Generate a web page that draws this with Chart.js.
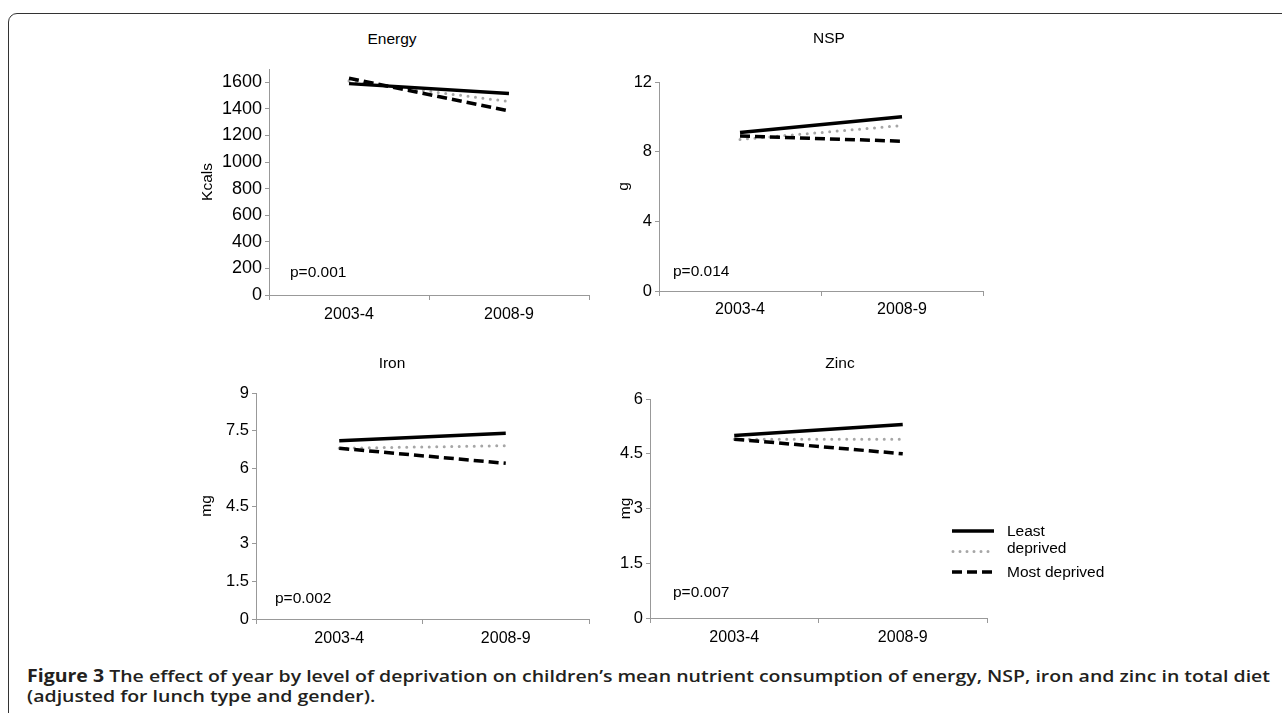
<!DOCTYPE html>
<html>
<head>
<meta charset="utf-8">
<script src="https://cdn.jsdelivr.net/npm/chart.js@4.4.0/dist/chart.umd.min.js"></script>
<style>
html,body{margin:0;padding:0;background:#fff;}
body{width:1282px;height:713px;overflow:hidden;position:relative;font-family:"Liberation Sans",Arial,sans-serif;color:#000;}
.frame{position:absolute;left:8px;top:13px;width:1320px;height:800px;border:1.6px solid #333;border-top-left-radius:9px;box-sizing:border-box;}
canvas{position:absolute;}
.t{position:absolute;font-size:15.5px;white-space:nowrap;transform:translate(-50%,-50%);line-height:1;}
.p{position:absolute;font-size:15.5px;white-space:nowrap;transform:translateY(-50%);line-height:1;}
.lg{position:absolute;font-size:15.5px;white-space:nowrap;transform:translateY(-50%);line-height:1;left:1007px;}
.cap{position:absolute;left:27px;top:666px;font-family:"Open Sans","Noto Sans",sans-serif;font-size:17px;line-height:19.5px;color:#231f20;font-weight:600;white-space:nowrap;transform-origin:0 0;}
.cap b{font-weight:700;}
</style>
</head>
<body>
<div class="frame"></div>

<canvas id="cEnergy" width="420" height="280" style="left:180px;top:50px;"></canvas>
<canvas id="cNSP" width="440" height="280" style="left:560px;top:50px;"></canvas>
<canvas id="cIron" width="430" height="320" style="left:170px;top:340px;"></canvas>
<canvas id="cZinc" width="440" height="320" style="left:560px;top:340px;"></canvas>

<div class="t" style="left:392px;top:39px;">Energy</div>
<div class="t" style="left:829px;top:38px;">NSP</div>
<div class="t" style="left:392px;top:363px;">Iron</div>
<div class="t" style="left:840px;top:363px;">Zinc</div>

<div class="p" style="left:290px;top:272px;">p=0.001</div>
<div class="p" style="left:673px;top:271px;">p=0.014</div>
<div class="p" style="left:275px;top:598px;">p=0.002</div>
<div class="p" style="left:673px;top:592px;">p=0.007</div>

<svg style="position:absolute;left:948px;top:520px;" width="52" height="64">
  <line x1="4" y1="11" x2="46" y2="11" stroke="#000" stroke-width="3.5"/>
  <line x1="5" y1="31.5" x2="46" y2="31.5" stroke="#a6a6a6" stroke-width="3" stroke-linecap="round" stroke-dasharray="0 7"/>
  <line x1="4" y1="52" x2="46" y2="52" stroke="#000" stroke-width="3.5" stroke-dasharray="10 5"/>
</svg>
<div class="lg" style="top:531px;">Least</div>
<div class="lg" style="top:548px;">deprived</div>
<div class="lg" style="top:572px;">Most deprived</div>

<div class="cap" id="cap"><span id="l1"><b>Figure 3</b> The effect of year by level of deprivation on children’s mean nutrient consumption of energy, NSP, iron and zinc in total diet</span><br><span id="l2">(adjusted for lunch type and gender).</span></div>

<script>
// ---- data ----
const categories = ['2003-4', '2008-9'];
const seriesNames = ['Least deprived', '', 'Most deprived'];

const energyLeast = [1590, 1515];
const energyMid   = [1610, 1455];
const energyMost  = [1630, 1385];
const energyTicks = [0, 200, 400, 600, 800, 1000, 1200, 1400, 1600];

const nspLeast = [9.1, 10.0];
const nspMid   = [8.7, 9.5];
const nspMost  = [8.9, 8.6];
const nspTicks = [0, 4, 8, 12];

const ironLeast = [7.1, 7.4];
const ironMid   = [6.8, 6.9];
const ironMost  = [6.8, 6.2];
const ironTicks = [0, 1.5, 3, 4.5, 6, 7.5, 9];

const zincLeast = [5.0, 5.3];
const zincMid   = [4.9, 4.9];
const zincMost  = [4.9, 4.5];
const zincTicks = [0, 1.5, 3, 4.5, 6];

// ---- styles ----
const FONT = '"Liberation Sans", Arial, sans-serif';
Chart.defaults.font.family = FONT;
const styles = [
  {borderColor:'#000', borderWidth:3.5, borderDash:[], order:1},
  {borderColor:'#a6a6a6', borderWidth:3, borderDash:[0, 7.5], borderCapStyle:'round', order:2},
  {borderColor:'#000', borderWidth:3.5, borderDash:[10, 5], order:0}
];

function makePanel(id, series, ticksArr, max, yTitle, box) {
  new Chart(document.getElementById(id), {
    type: 'line',
    data: {
      labels: categories,
      datasets: series.map((vals, i) => Object.assign({
        label: seriesNames[i], data: vals, pointRadius: 0, tension: 0, fill: false
      }, styles[i]))
    },
    options: {
      responsive: false, animation: false, events: [],
      layout: {padding: {top: box.padTop, right: box.padRight, left: 0, bottom: 0}},
      plugins: {legend: {display: false}, tooltip: {enabled: false}, title: {display: false}},
      scales: {
        x: {
          type: 'category', offset: true,
          grid: {offset: true, drawOnChartArea: false, drawTicks: true, tickLength: 5, color: '#999', lineWidth: 1},
          border: {color: '#999', width: 1},
          ticks: {color: '#000', font: {size: 16}, padding: box.xPad, maxRotation: 0, autoSkip: false},
          afterFit(s) { s.height = box.hx; }
        },
        y: {
          min: 0, max: max, bounds: 'data',
          afterBuildTicks(s) { s.ticks = ticksArr.map(v => ({value: v})); },
          ticks: {color: '#000', font: {size: box.yFont}, padding: 3, callback: v => String(v), autoSkip: false},
          grid: {drawOnChartArea: false, drawTicks: true, tickLength: 4, color: '#999', lineWidth: 1},
          border: {color: '#999', width: 1},
          title: {display: true, text: yTitle, color: '#000', font: {size: 15.5}, padding: {top: box.titlePad, bottom: 0}},
          afterFit(s) { s.width = box.wy; }
        }
      }
    }
  });
}

makePanel('cEnergy', [energyLeast, energyMid, energyMost], energyTicks, 1700, 'Kcals',
  {padTop: 19, padRight: 11, wy: 89, hx: 35, titlePad: 18, xPad: 5, yFont: 18});
makePanel('cNSP', [nspLeast, nspMid, nspMost], nspTicks, 12, 'g',
  {padTop: 32, padRight: 17, wy: 99, hx: 39, titlePad: 54, xPad: 4, yFont: 16.5});
makePanel('cIron', [ironLeast, ironMid, ironMost], ironTicks, 9, 'mg',
  {padTop: 53, padRight: 11, wy: 86, hx: 41, titlePad: 27, xPad: 5, yFont: 16.5});
makePanel('cZinc', [zincLeast, zincMid, zincMost], zincTicks, 6, 'mg',
  {padTop: 59, padRight: 13, wy: 90, hx: 42, titlePad: 56, xPad: 5, yFont: 16.5});

// stretch caption horizontally so its first line spans the reference width
(function(){
  const l1 = document.getElementById('l1');
  const cap = document.getElementById('cap');
  const w = l1.getBoundingClientRect().width;
  const s = 1243 / w;
  cap.style.transform = 'scaleX(' + s.toFixed(4) + ')';
})();
</script>
</body>
</html>
